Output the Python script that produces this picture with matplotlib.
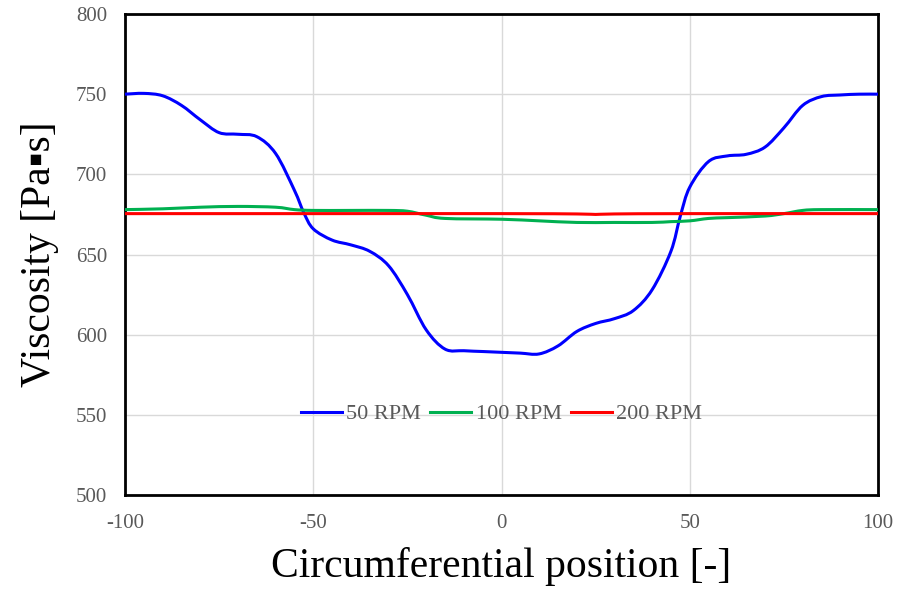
"""Viscosity along the circumferential position for three screw speeds."""
import matplotlib

matplotlib.use("Agg")
import matplotlib.pyplot as plt
from matplotlib.lines import Line2D
from matplotlib.patches import PathPatch
from matplotlib.path import Path

# --- data --------------------------------------------------------------------
pos_50 = [-100, -95, -90, -85, -80, -75, -70, -65, -60, -55, -52.5, -50, -45, -40,
          -35, -30, -25, -20, -15, -10, -5, 0, 5, 10, 15, 20, 25, 30, 35, 40, 45,
          47.5, 50, 55, 60, 65, 70, 75, 80, 85, 90, 95, 100]
visc_50 = [750, 750.5, 749, 743, 734, 726, 725, 723.5, 713, 690, 676, 666, 659, 656,
           652, 643, 625, 603, 591, 590, 589.5, 589, 588.5, 588, 593, 602, 607, 610,
           615, 628, 652, 674, 692, 708, 711.5, 712.5, 717, 729, 743, 748.5, 749.5,
           750, 750]

pos_100 = [-100, -90, -80, -70, -60, -55, -50, -40, -30, -25, -20, -15, 0, 10, 20,
           30, 40, 45, 50, 55, 60, 70, 75, 80, 85, 100]
visc_100 = [678, 678.5, 679.5, 680, 679.5, 678, 677.5, 677.5, 677.5, 677, 674.5,
            672.5, 672, 671, 670, 670, 670, 670.5, 671, 672.5, 673, 674, 675.5,
            677.5, 678, 678]

pos_200 = [-100, -50, 0, 20, 25, 30, 50, 100]
visc_200 = [675.5, 675.5, 675.5, 675.3, 675, 675.3, 675.5, 675.5]

series = [
    ("50 RPM", pos_50, visc_50, "#0000ff"),
    ("100 RPM", pos_100, visc_100, "#00b050"),
    ("200 RPM", pos_200, visc_200, "#ff0000"),
]

x_ticks = [-100, -50, 0, 50, 100]
y_ticks = [500, 550, 600, 650, 700, 750, 800]


def smooth_path(xs, ys):
    # Excel-style smoothed line: cubic Bezier segments through every data point
    pts = list(zip(xs, ys))
    n = len(pts)
    verts = [pts[0]]
    codes = [Path.MOVETO]
    for i in range(n - 1):
        p0 = pts[max(i - 1, 0)]
        p1 = pts[i]
        p2 = pts[i + 1]
        p3 = pts[min(i + 2, n - 1)]
        c1 = (p1[0] + (p2[0] - p0[0]) / 6, p1[1] + (p2[1] - p0[1]) / 6)
        c2 = (p2[0] - (p3[0] - p1[0]) / 6, p2[1] - (p3[1] - p1[1]) / 6)
        verts += [c1, c2, p2]
        codes += [Path.CURVE4] * 3
    return Path(verts, codes)


# --- figure -----------------------------------------------------------------
plt.rcParams["font.family"] = ["Liberation Serif", "DejaVu Sans"]
plt.rcParams["axes.unicode_minus"] = False

fig = plt.figure(figsize=(9.16, 5.91), dpi=100)
ax = fig.add_axes([0.1365, 0.1624, 0.822, 0.8139])

handles = []
for label, xs, ys, color in series:
    ax.add_patch(PathPatch(smooth_path(xs, ys), facecolor="none", edgecolor=color,
                           lw=2.2, capstyle="round", zorder=3))
    handles.append(Line2D([], [], color=color, lw=2.2, label=label))

ax.set_xlim(-100, 100)
ax.set_ylim(500, 800)
ax.set_xticks(x_ticks)
ax.set_yticks(y_ticks)
ax.grid(True, color="#d9d9d9", lw=1.0, zorder=0)
ax.tick_params(axis="y", length=0, labelsize=15, labelcolor="#595959", pad=13)
ax.tick_params(axis="x", length=0, labelsize=15, labelcolor="#595959", pad=14)

for side in ["left", "right", "top", "bottom"]:
    ax.spines[side].set_color("black")
    ax.spines[side].set_linewidth(2.0)

ax.set_xlabel("Circumferential position [-]", fontsize=30, labelpad=10)
ax.set_ylabel("Viscosity [Pa\u25aas]", fontsize=30, labelpad=12)

leg = ax.legend(handles=handles, loc="center", bbox_to_anchor=(0.5, 0.168), ncol=3,
                frameon=False, fontsize=16, handlelength=1.85, handletextpad=0.2,
                columnspacing=0.4)
for text in leg.get_texts():
    text.set_color("#595959")

fig.savefig("out.png", dpi=100)
plt.close(fig)
